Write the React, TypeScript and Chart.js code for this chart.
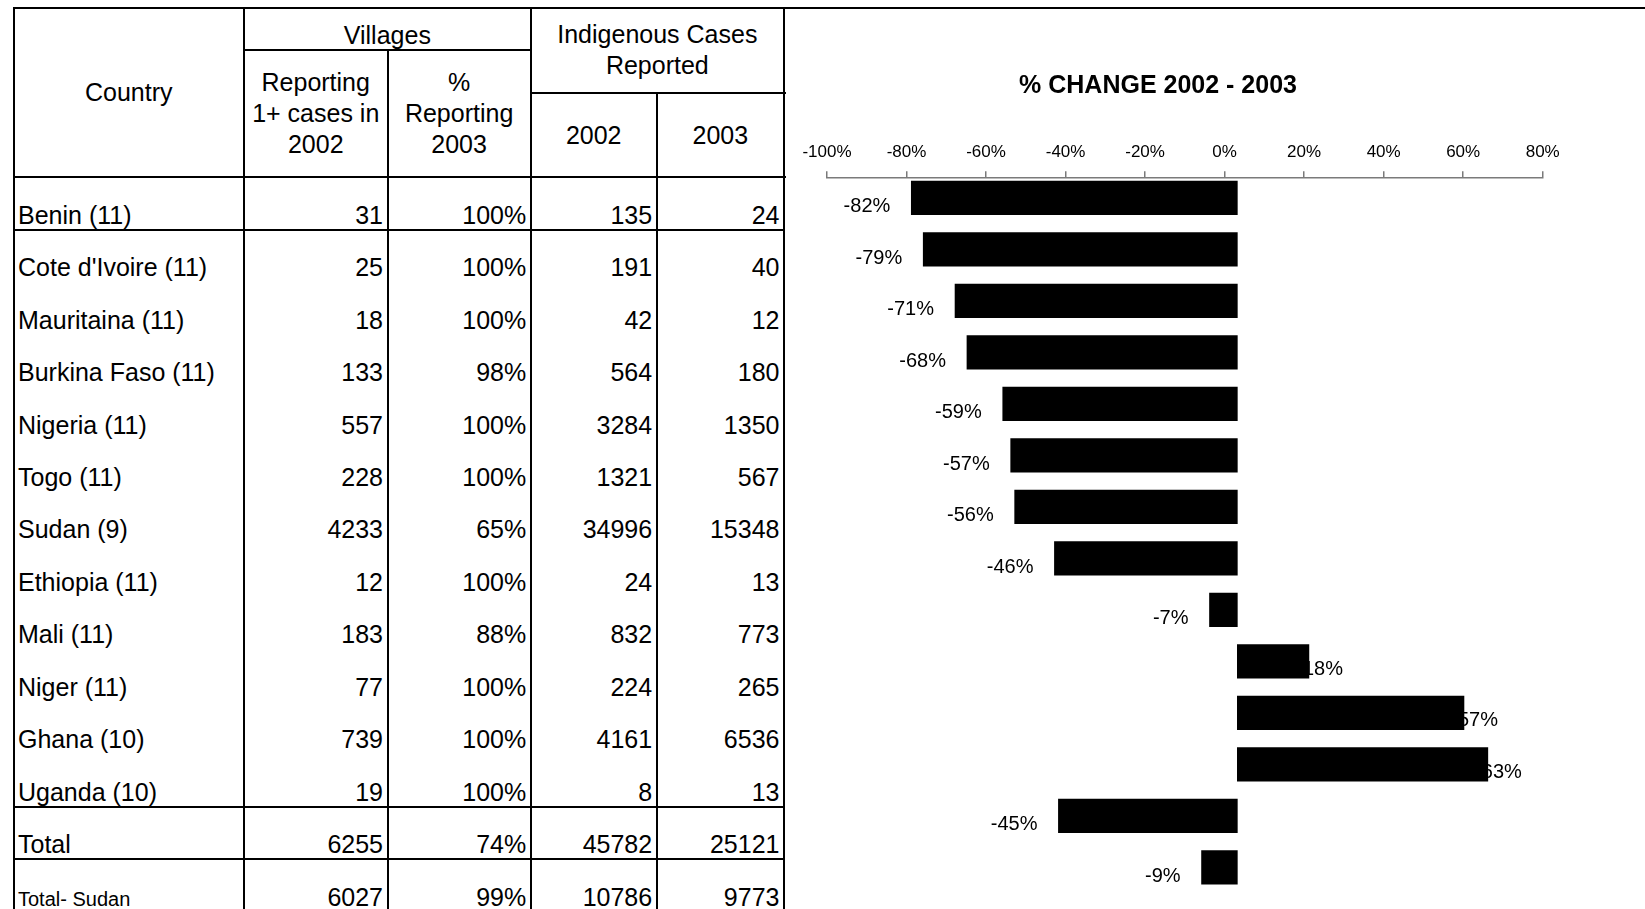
import React, { useEffect, useRef } from "react";
import { Chart, registerables } from "chart.js";

Chart.register(...registerables);
Chart.defaults.font.family = "'Liberation Sans', Arial, Helvetica, sans-serif";

// ---------- data ----------
const countries = [
  "Benin (11)",
  "Cote d'Ivoire (11)",
  "Mauritaina (11)",
  "Burkina Faso (11)",
  "Nigeria (11)",
  "Togo (11)",
  "Sudan (9)",
  "Ethiopia (11)",
  "Mali (11)",
  "Niger (11)",
  "Ghana (10)",
  "Uganda (10)",
  "Total",
  "Total- Sudan",
];
const villagesReporting2002 = [31, 25, 18, 133, 557, 228, 4233, 12, 183, 77, 739, 19, 6255, 6027];
const pctReporting2003 = [100, 100, 100, 98, 100, 100, 65, 100, 88, 100, 100, 100, 74, 99];
const cases2002 = [135, 191, 42, 564, 3284, 1321, 34996, 24, 832, 224, 4161, 8, 45782, 10786];
const cases2003 = [24, 40, 12, 180, 1350, 567, 15348, 13, 773, 265, 6536, 13, 25121, 9773];
const pctChange = [-82, -79, -71, -68, -59, -57, -56, -46, -7, 18, 57, 63, -45, -9];
const axisTicks = [-100, -80, -60, -40, -20, 0, 20, 40, 60, 80];
const chartTitle = "% CHANGE 2002 - 2003";

// ---------- layout constants ----------
const FONT = "'Liberation Sans', Arial, Helvetica, sans-serif";
const colX = [13.5, 244, 387.5, 530.7, 656.7, 784];
const headerBottom = 177.3;
const rowH = 52.45;

function HLine({ x0, x1, y }: { x0: number; x1: number; y: number }) {
  return (
    <div
      style={{ position: "absolute", left: x0, top: y, width: x1 - x0, height: 2, background: "#000" }}
    />
  );
}
function VLine({ x, y0, y1 }: { x: number; y0: number; y1: number }) {
  return (
    <div style={{ position: "absolute", left: x, top: y0, width: 2, height: y1 - y0, background: "#000" }} />
  );
}

function Cell(props: {
  x0: number;
  x1: number;
  y0: number;
  y1: number;
  align: "left" | "right" | "center";
  valign: "bottom" | "center";
  size?: number;
  lh?: number;
  padTop?: number;
  children: React.ReactNode;
}) {
  const { x0, x1, y0, y1, align, valign, size = 25, lh = 29, padTop = 0 } = props;
  return (
    <div
      style={{
        position: "absolute",
        left: x0 + 1,
        top: y0,
        width: x1 - x0 - 2,
        height: y1 - y0,
        boxSizing: "border-box",
        display: "flex",
        flexDirection: "column",
        justifyContent: valign === "bottom" ? "flex-end" : "center",
        alignItems: align === "left" ? "flex-start" : align === "right" ? "flex-end" : "center",
        textAlign: align,
        paddingLeft: align === "left" ? 3.5 : 0,
        paddingRight: align === "right" ? 3.5 : 0,
        paddingTop: padTop,
        fontSize: size,
        lineHeight: lh + "px",
        whiteSpace: "nowrap",
        color: "#000",
      }}
    >
      <div>{props.children}</div>
    </div>
  );
}

function DataTable() {
  const bodyCells: React.ReactNode[] = [];
  countries.forEach((name, r) => {
    const y0 = headerBottom + r * rowH;
    const y1 = y0 + rowH;
    const small = name === "Total- Sudan";
    bodyCells.push(
      <Cell key={"c" + r} x0={colX[0]} x1={colX[1]} y0={y0} y1={y1} align="left" valign="bottom" size={small ? 20 : 25} lh={small ? 26 : 29}>
        {name}
      </Cell>,
      <Cell key={"v" + r} x0={colX[1]} x1={colX[2]} y0={y0} y1={y1} align="right" valign="bottom">
        {villagesReporting2002[r]}
      </Cell>,
      <Cell key={"p" + r} x0={colX[2]} x1={colX[3]} y0={y0} y1={y1} align="right" valign="bottom">
        {pctReporting2003[r] + "%"}
      </Cell>,
      <Cell key={"a" + r} x0={colX[3]} x1={colX[4]} y0={y0} y1={y1} align="right" valign="bottom">
        {cases2002[r]}
      </Cell>,
      <Cell key={"b" + r} x0={colX[4]} x1={colX[5]} y0={y0} y1={y1} align="right" valign="bottom">
        {cases2003[r]}
      </Cell>
    );
  });

  return (
    <>
      {/* lines */}
      <HLine x0={12.5} x1={1645} y={6.5} />
      <HLine x0={243} x1={531.7} y={49} />
      <HLine x0={529.7} x1={786} y={91.8} />
      <HLine x0={12.5} x1={786} y={176.3} />
      <HLine x0={12.5} x1={785} y={headerBottom + rowH - 1} />
      <HLine x0={12.5} x1={785} y={headerBottom + 12 * rowH - 1} />
      <HLine x0={12.5} x1={785} y={headerBottom + 13 * rowH - 1} />
      <VLine x={12.5} y0={6.5} y1={909} />
      <VLine x={243} y0={6.5} y1={909} />
      <VLine x={386.5} y0={49} y1={909} />
      <VLine x={529.7} y0={6.5} y1={909} />
      <VLine x={655.7} y0={91.8} y1={909} />
      <VLine x={783} y0={6.5} y1={909} />

      {/* header */}
      <Cell x0={colX[0]} x1={colX[1]} y0={7.5} y1={177.3} align="center" valign="center" lh={31}>
        Country
      </Cell>
      <Cell x0={colX[1]} x1={colX[3]} y0={7.5} y1={50} align="center" valign="center" lh={31} padTop={13}>
        Villages
      </Cell>
      <Cell x0={colX[1]} x1={colX[2]} y0={50} y1={177.3} align="center" valign="center" lh={31}>
        Reporting
        <br />
        1+ cases in
        <br />
        2002
      </Cell>
      <Cell x0={colX[2]} x1={colX[3]} y0={50} y1={177.3} align="center" valign="center" lh={31}>
        %
        <br />
        Reporting
        <br />
        2003
      </Cell>
      <Cell x0={colX[3]} x1={colX[5]} y0={7.5} y1={92.8} align="center" valign="center" lh={31}>
        Indigenous Cases
        <br />
        Reported
      </Cell>
      <Cell x0={colX[3]} x1={colX[4]} y0={92.8} y1={177.3} align="center" valign="center" lh={31}>
        2002
      </Cell>
      <Cell x0={colX[4]} x1={colX[5]} y0={92.8} y1={177.3} align="center" valign="center" lh={31}>
        2003
      </Cell>
      {bodyCells}
    </>
  );
}

function ChangeChart() {
  const ref = useRef<HTMLCanvasElement>(null);
  useEffect(() => {
    if (!ref.current) return;
    const labelPlugin = {
      id: "barValueLabels",
      beforeDatasetsDraw(chart: any) {
        const ctx = chart.ctx;
        const meta = chart.getDatasetMeta(0);
        ctx.save();
        ctx.font = "20px " + FONT;
        ctx.fillStyle = "#000";
        ctx.textBaseline = "middle";
        meta.data.forEach((el: any, i: number) => {
          const v = pctChange[i];
          const { x, y } = el.getProps(["x", "y"], true);
          if (v < 0) {
            ctx.textAlign = "right";
            ctx.fillText(v + "%", x - 21, y + 9);
          } else {
            ctx.textAlign = "left";
            ctx.fillText(v + "%", x - 6, y + 8);
          }
        });
        ctx.restore();
      },
    };

    const chart = new Chart(ref.current, {
      type: "bar",
      data: {
        datasets: [
          {
            label: chartTitle,
            data: pctChange.map((v, i) => ({ x: v, y: i })),
            backgroundColor: "#000",
            borderWidth: 0,
            barThickness: 33.5,
          },
        ],
      },
      options: {
        indexAxis: "y",
        responsive: false,
        animation: false,
        layout: { padding: { left: 13.3, right: 102.3, top: 0, bottom: 15.85 } },
        plugins: {
          legend: { display: false },
          tooltip: { enabled: false },
          title: {
            display: true,
            text: chartTitle,
            color: "#000",
            font: { size: 25, weight: "bold" },
            padding: { top: 62.3, bottom: 31.6 },
          },
        },
        scales: {
          x: { type: "linear", display: false, min: -103.2, max: 76.8 },
          x2: {
            type: "linear",
            axis: "x",
            position: "top",
            min: -100,
            max: 80,
            afterBuildTicks: (s: any) => {
              s.ticks = axisTicks.map((v) => ({ value: v }));
            },
            ticks: {
              color: "#000",
              font: { size: 17 },
              padding: 9,
              maxRotation: 0,
              autoSkip: false,
              callback: (v: any) => v + "%",
            },
            grid: {
              display: true,
              drawOnChartArea: false,
              drawTicks: true,
              tickLength: 6,
              color: "#7a7a7a",
              lineWidth: 1.5,
            },
            border: { display: true, color: "#7a7a7a", width: 1.5 },
          },
          y: {
            type: "linear",
            position: "left",
            reverse: true,
            offset: false,
            grace: 0,
            min: -0.4,
            max: 13.5,
            ticks: { display: false, stepSize: 1 },
            grid: { display: false, offset: false },
            border: { display: false },
            afterFit: (s: any) => {
              s.width = 53.7;
            },
          },
        },
      } as any,
      plugins: [labelPlugin],
    });
    return () => chart.destroy();
  }, []);
  return <canvas ref={ref} width={885} height={900} style={{ position: "absolute", left: 760, top: 9 }} />;
}

export default function App() {
  return (
    <div
      style={{
        position: "fixed",
        left: 0,
        top: 0,
        width: 1645,
        height: 909,
        overflow: "hidden",
        background: "#fff",
        fontFamily: FONT,
      }}
    >
      <DataTable />
      <ChangeChart />
    </div>
  );
}
